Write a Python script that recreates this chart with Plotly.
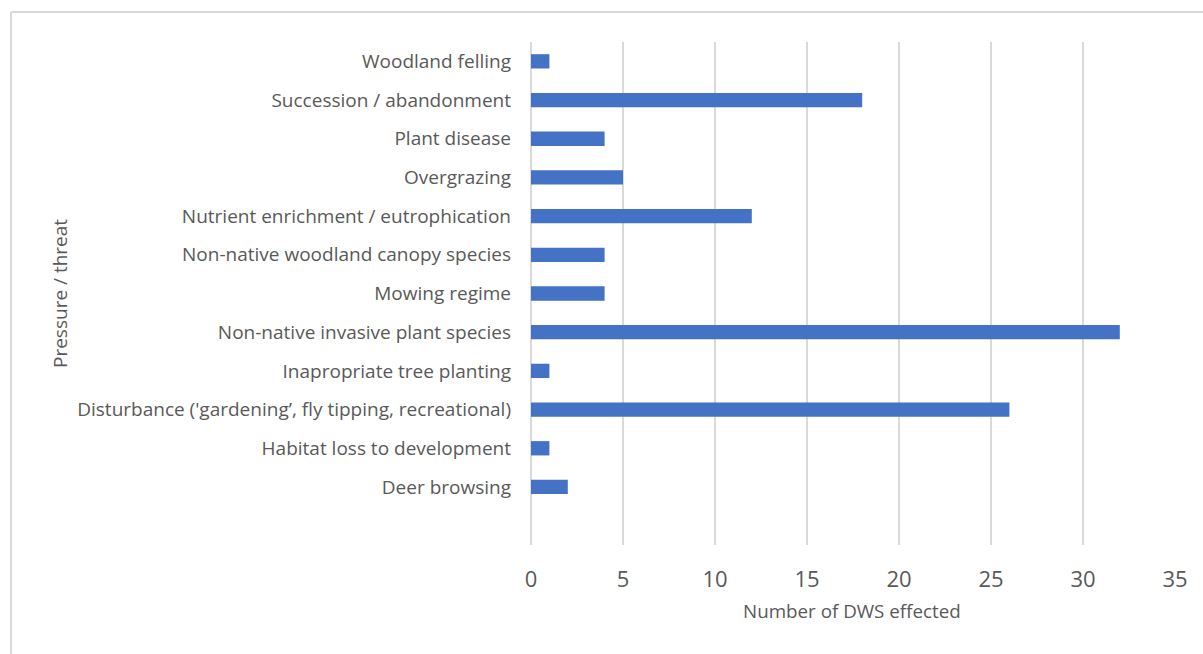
import plotly.graph_objects as go

categories = [
    "Deer browsing",
    "Habitat loss to development",
    "Disturbance ('gardening’, fly tipping, recreational)",
    "Inapropriate tree planting",
    "Non-native invasive plant species",
    "Mowing regime",
    "Non-native woodland canopy species",
    "Nutrient enrichment / eutrophication",
    "Overgrazing",
    "Plant disease",
    "Succession / abandonment",
    "Woodland felling",
]
values = [2, 1, 26, 1, 32, 4, 4, 12, 5, 4, 18, 1]
x_ticks = [0, 5, 10, 15, 20, 25, 30, 35]

W, H = 1203, 654
L, R, T, B = 531, 28, 42, 109
pw, ph = W - L - R, H - T - B

def px(x):
    return (x - L) / pw

def py(y):
    return (H - B - y) / ph

font_family = "'Open Sans', Lato, sans-serif"
grey = "#595959"

fig = go.Figure(
    go.Bar(
        x=values,
        y=categories,
        orientation="h",
        width=0.37,
        marker=dict(color="#4472C4", line=dict(width=0)),
        hoverinfo="x+y",
    )
)

fig.update_layout(
    width=W,
    height=H,
    margin=dict(l=L, r=R, t=T, b=B, autoexpand=False),
    paper_bgcolor="white",
    plot_bgcolor="white",
    showlegend=False,
    font=dict(family=font_family, color=grey),
    xaxis=dict(
        range=[0, 35],
        tickvals=x_ticks,
        ticktext=[str(v) for v in x_ticks],
        showgrid=True,
        gridcolor="#d9d9d9",
        gridwidth=2,
        zeroline=True,
        zerolinecolor="#d9d9d9",
        zerolinewidth=2,
        showline=False,
        ticks="",
        ticklabelstandoff=19,
        tickfont=dict(size=22, color=grey, family=font_family),
        fixedrange=True,
    ),
    yaxis=dict(
        type="category",
        categoryorder="array",
        categoryarray=categories,
        range=[-1.5, 11.5],
        showgrid=False,
        showline=False,
        ticks="",
        ticklabelstandoff=19,
        tickfont=dict(size=19, color=grey, family=font_family),
        fixedrange=True,
    ),
    annotations=[
        dict(
            text="Number of DWS effected",
            xref="paper", yref="paper",
            x=px(852), y=py(611),
            xanchor="center", yanchor="middle",
            showarrow=False,
            font=dict(size=18.8, color=grey, family=font_family),
        ),
        dict(
            text="Pressure / threat",
            xref="paper", yref="paper",
            x=px(60), y=py(294),
            xanchor="center", yanchor="middle",
            textangle=-90,
            showarrow=False,
            font=dict(size=19, color=grey, family=font_family),
        ),
    ],
    shapes=[
        dict(type="line", xref="paper", yref="paper",
             x0=px(11), x1=px(1210), y0=py(12), y1=py(12),
             line=dict(color="#d9d9d9", width=2)),
        dict(type="line", xref="paper", yref="paper",
             x0=px(11), x1=px(11), y0=py(12), y1=py(660),
             line=dict(color="#d9d9d9", width=2)),
    ],
)

fig.write_html("out.html", config={"displayModeBar": False})
